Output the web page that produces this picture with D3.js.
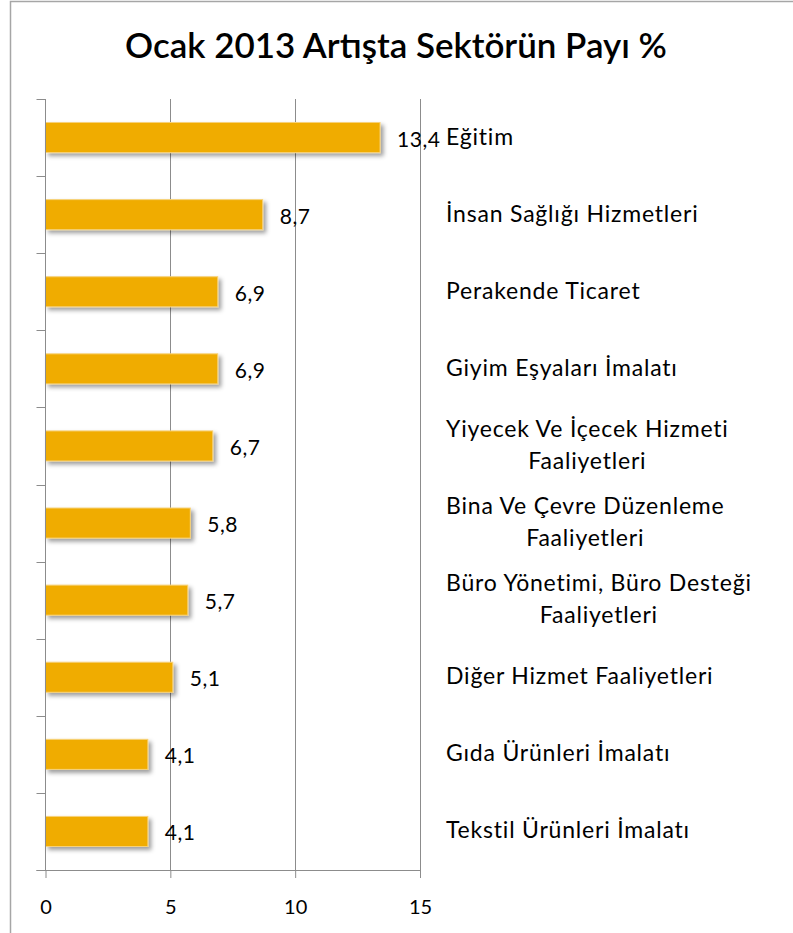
<!DOCTYPE html>
<html><head><meta charset="utf-8">
<script src="https://cdn.jsdelivr.net/npm/d3@7"></script>
<style>
html,body{margin:0;padding:0;background:#fff;}
svg{display:block;}
text{font-family:Lato,"Open Sans",sans-serif;fill:#000;}
</style></head>
<body>
<script>
const title = "Ocak 2013 Artışta Sektörün Payı %";
const categories = [
  ["Eğitim"],
  ["İnsan Sağlığı Hizmetleri"],
  ["Perakende Ticaret"],
  ["Giyim Eşyaları İmalatı"],
  ["Yiyecek Ve İçecek Hizmeti","Faaliyetleri"],
  ["Bina Ve Çevre Düzenleme","Faaliyetleri"],
  ["Büro Yönetimi, Büro Desteği","Faaliyetleri"],
  ["Diğer Hizmet Faaliyetleri"],
  ["Gıda Ürünleri İmalatı"],
  ["Tekstil Ürünleri İmalatı"]
];
const values = [13.4, 8.7, 6.9, 6.9, 6.7, 5.8, 5.7, 5.1, 4.1, 4.1];
const valueLabels = ["13,4","8,7","6,9","6,9","6,7","5,8","5,7","5,1","4,1","4,1"];
const xTicks = [0, 5, 10, 15];

(function(){
const W = 793, H = 933;
const svg = d3.select("body").append("svg").attr("width", W).attr("height", H);

const defs = svg.append("defs");
const f = defs.append("filter").attr("id","sh").attr("x","-10%").attr("y","-30%").attr("width","130%").attr("height","180%");
f.append("feDropShadow").attr("dx",3).attr("dy",3).attr("stdDeviation",2.2).attr("flood-color","#000").attr("flood-opacity",0.38);

// outer frame
svg.append("rect").attr("x",10.5).attr("y",1.5).attr("width",W+20).attr("height",H+20)
  .attr("fill","none").attr("stroke","#a6a6a6").attr("stroke-width",1.5);

const pLeft = 45.5, pRight = 420, pTop = 99, pBottom = 870;
const x = d3.scaleLinear().domain([0,15]).range([pLeft,pRight]);
const y = d3.scaleBand().domain(d3.range(categories.length)).range([pTop,pBottom]).paddingInner(0.61).paddingOuter(0.305);
const yb = d3.scaleBand().domain(d3.range(categories.length)).range([pTop,pBottom]);

// gridlines
svg.append("g").selectAll("line").data(xTicks.slice(1)).join("line")
  .attr("x1",d=>Math.round(x(d))+0.5).attr("x2",d=>Math.round(x(d))+0.5)
  .attr("y1",pTop).attr("y2",pBottom)
  .attr("stroke","#8c8c8c").attr("stroke-width",1);

// bars
svg.append("g").selectAll("rect").data(values).join("rect")
  .attr("x",x(0)).attr("y",(d,i)=>y(i))
  .attr("width",d=>x(d)-x(0)).attr("height",y.bandwidth())
  .attr("fill","#f0ac00").attr("stroke","#f7d27a").attr("stroke-width",1)
  .attr("filter","url(#sh)");

// y axis
const yAxisG = svg.append("g");
yAxisG.append("line").attr("x1",pLeft).attr("x2",pLeft).attr("y1",pTop).attr("y2",pBottom).attr("stroke","#8c8c8c");
const bounds = d3.range(categories.length+1).map(i=> i<categories.length ? yb(i) : pBottom);
yAxisG.selectAll("line.t").data(bounds).join("line").attr("class","t")
  .attr("x1",pLeft-9).attr("x2",pLeft).attr("y1",d=>Math.round(d)+0.5).attr("y2",d=>Math.round(d)+0.5)
  .attr("stroke","#8c8c8c");

// x axis
const xAxis = d3.axisBottom(x).tickValues(xTicks).tickSize(8).tickPadding(22).tickFormat(d3.format("d"));
const xg = svg.append("g").attr("transform",`translate(0,${pBottom})`).call(xAxis);
xg.select(".domain").attr("stroke","#8c8c8c").attr("d",`M${pLeft-9},0.5H${pRight}`);
xg.selectAll(".tick line").attr("stroke","#8c8c8c");
xg.selectAll(".tick text").attr("font-size",20).attr("font-family","Lato, sans-serif").attr("fill","#000");

// value labels
svg.append("g").selectAll("text").data(values).join("text")
  .attr("x",d=>x(d)+17).attr("y",(d,i)=>y(i)+y.bandwidth()/2+9)
  .attr("font-size",21).attr("letter-spacing",0.5).text((d,i)=>valueLabels[i]);

// category labels
const lab = svg.append("g");
categories.forEach((lines,i)=>{
  const cy = yb(i)+yb.bandwidth()/2;
  const g = lab.append("g");
  const lh = 32;
  const ts = lines.map((l,j)=> g.append("text").attr("font-size",23).attr("letter-spacing",0.8)
     .attr("y", cy + (j-(lines.length-1)/2)*lh + 7).text(l));
  const widths = ts.map(t=>t.node().getComputedTextLength());
  const maxW = d3.max(widths);
  ts.forEach((t,j)=> t.attr("x", 446 + (maxW - widths[j])/2));
});

// title
const tt = svg.append("text").attr("x",396).attr("y",58).attr("text-anchor","middle")
  .attr("font-size",30).attr("font-weight",600).text(title);
const tw = tt.node().getComputedTextLength();
tt.attr("font-size", 30*542/tw);
})();
</script>
</body></html>
